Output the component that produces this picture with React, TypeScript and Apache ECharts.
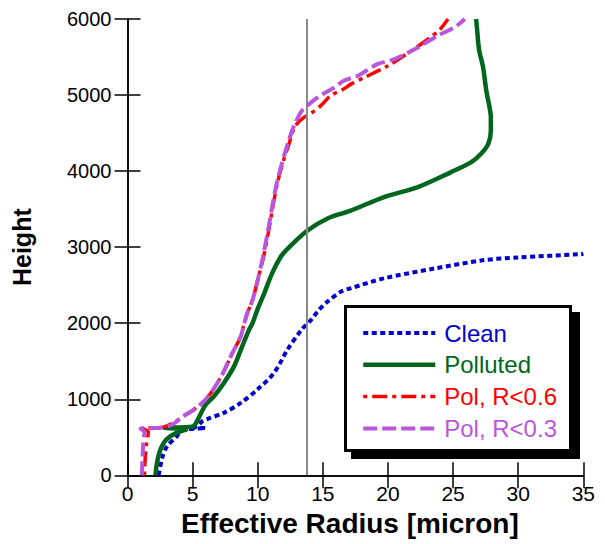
import React, { useEffect, useRef } from "react";
import * as echarts from "echarts";

// Effective radius [micron] vs height, per profile
const cleanR = [2.4, 2.67, 3.05, 3.8, 4.1, 4.6, 6.0, 4.8, 5.36, 5.74, 6.13, 7.4, 8.7, 9.97, 11.25, 12.28, 13.4, 14.1, 14.7, 15.36, 16.4, 17.15, 19.7, 23.6, 27.4, 30.0, 34.85, 35.0];
const cleanH = [0, 232, 384, 515, 580, 605, 622, 635, 650, 711, 740, 821, 952, 1127, 1345, 1650, 1922, 2044, 2175, 2284, 2415, 2460, 2590, 2720, 2830, 2865, 2908, 2915];

const pollR = [2.15, 2.25, 2.45, 2.8, 3.3, 4.0, 4.5, 2.8, 5.0, 5.3, 5.6, 6.0, 6.64, 7.4, 8.18, 8.7, 9.33, 9.6, 9.97, 10.5, 11.1, 11.77, 12.3, 13.8, 15.4, 17.15, 19.7, 22.3, 24.85, 26.4, 27.15, 27.7, 27.9, 27.9, 27.8, 27.55, 27.3, 27.0, 26.85, 26.77];
const pollH = [0, 150, 300, 430, 515, 575, 600, 625, 640, 700, 800, 930, 1039, 1214, 1432, 1650, 1913, 2000, 2175, 2393, 2655, 2873, 2980, 3215, 3380, 3480, 3659, 3790, 3987, 4118, 4228, 4359, 4533, 4708, 4839, 5057, 5371, 5590, 5852, 6000];

const pol06R = [1.3, 1.35, 1.45, 1.6, 1.1, 2.6, 3.5, 4.3, 5.1, 5.87, 6.4, 6.9, 7.4, 8.05, 8.7, 8.9, 9.2, 9.6, 10.0, 10.45, 10.8, 11.25, 11.5, 11.9, 12.4, 12.67, 12.9, 13.5, 14.1, 14.85, 15.6, 16.6, 17.15, 18.2, 20.0, 21.8, 23.3, 23.95, 24.5, 24.6];
const pol06H = [0, 200, 400, 570, 620, 628, 690, 777, 865, 973, 1083, 1214, 1367, 1607, 1825, 1956, 2131, 2306, 2568, 2873, 3180, 3616, 3834, 4096, 4358, 4511, 4600, 4700, 4760, 4861, 4992, 5079, 5144, 5232, 5385, 5581, 5764, 5852, 5974, 6000];

const pol03R = [1.1, 1.15, 1.2, 1.3, 1.0, 2.5, 3.4, 4.3, 5.1, 5.87, 6.4, 6.9, 7.4, 8.05, 8.7, 8.9, 9.2, 9.6, 10.0, 10.4, 10.75, 11.2, 11.45, 11.85, 12.3, 12.6, 12.85, 13.4, 14.1, 15.0, 15.9, 16.6, 17.7, 19.2, 20.5, 22.3, 23.8, 25.1, 25.9];
const pol03H = [0, 200, 400, 570, 615, 625, 665, 777, 865, 973, 1083, 1214, 1367, 1607, 1825, 1956, 2131, 2306, 2568, 2873, 3180, 3616, 3834, 4096, 4358, 4511, 4620, 4795, 4904, 5014, 5101, 5188, 5254, 5407, 5473, 5626, 5779, 5888, 6000];

const referenceRadius = 13.8;

const seriesNames = ["Clean", "Polluted", "Pol, R<0.6", "Pol, R<0.3"];
const seriesColors = ["#0000cc", "#00661e", "#ff0000", "#bb55dd"];
const seriesWidths = [4, 4.5, 3.5, 4];
const seriesDash: any[] = [[5, 3.5], "solid", [4, 5, 15, 5], [14, 5]];

const FONT = "Liberation Sans, Arial, Helvetica, sans-serif";

const zip = (r: number[], h: number[]) => r.map((x, i) => [x, h[i]]);

export default function App() {
  const ref = useRef<HTMLDivElement>(null);

  useEffect(() => {
    document.body.style.margin = "0";
    if (!ref.current) return;
    const chart = echarts.init(ref.current, undefined, { renderer: "svg" });

    const baseAxisLine = { show: true, lineStyle: { color: "#000", width: 1.5 } };
    const baseTick = { show: true, inside: true, length: 13, lineStyle: { color: "#000", width: 1.5 } };
    const SMOOTH = 0.3;
    const dataSets = [zip(cleanR, cleanH), zip(pollR, pollH), zip(pol06R, pol06H), zip(pol03R, pol03H)];

    const series: any[] = seriesNames.map((name, i) => ({
      name,
      type: "line",
      data: dataSets[i],
      symbol: "none",
      smooth: SMOOTH,
      z: 2 + i,
      lineStyle: { color: seriesColors[i], width: seriesWidths[i], type: seriesDash[i] },
      itemStyle: { color: seriesColors[i] },
    }));
    series[0].markLine = {
      silent: true,
      symbol: "none",
      label: { show: false },
      lineStyle: { color: "#888", width: 2, type: "solid" },
      data: [{ xAxis: referenceRadius }],
    };

    chart.setOption({
      animation: false,
      backgroundColor: "#fff",
      grid: { left: 127.5, right: 21.7, top: 19, bottom: 68.7 },
      xAxis: [
        {
          type: "value",
          min: 0,
          max: 35,
          interval: 5,
          position: "bottom",
          axisLine: baseAxisLine,
          axisTick: baseTick,
          splitLine: { show: false },
          axisLabel: { fontFamily: FONT, fontSize: 21, color: "#000", margin: 8, formatter: (v: number) => String(v) },
          name: "Effective Radius [micron]",
          nameLocation: "middle",
          nameGap: 32,
          nameTextStyle: { fontFamily: FONT, fontSize: 28, fontWeight: "bold", color: "#000", padding: [0, 11, 0, 0] },
        },
        {
          type: "value",
          min: 0,
          max: 35,
          interval: 5,
          position: "top",
          axisLine: baseAxisLine,
          axisTick: baseTick,
          splitLine: { show: false },
          axisLabel: { show: false },
        },
      ],
      yAxis: [
        {
          type: "value",
          min: 0,
          max: 6000,
          interval: 1000,
          position: "left",
          axisLine: baseAxisLine,
          axisTick: baseTick,
          splitLine: { show: false },
          axisLabel: { fontFamily: FONT, fontSize: 20, color: "#000", margin: 16, formatter: (v: number) => String(v) },
          name: "Height",
          nameLocation: "middle",
          nameGap: 93,
          nameRotate: 90,
          nameTextStyle: { fontFamily: FONT, fontSize: 25, fontWeight: "bold", color: "#000" },
        },
        {
          type: "value",
          min: 0,
          max: 6000,
          interval: 1000,
          position: "right",
          axisLine: baseAxisLine,
          axisTick: baseTick,
          splitLine: { show: false },
          axisLabel: { show: false },
        },
      ],
      legend: {
        orient: "vertical",
        left: 361,
        top: 321,
        padding: 0,
        itemWidth: 72,
        itemHeight: 14,
        itemGap: 7.8,
        selectedMode: false,
        z: 10,
        itemStyle: { opacity: 0, borderWidth: 0 },
        textStyle: { fontFamily: FONT, fontSize: 24, lineHeight: 24, padding: [0, 0, 0, 4] },
        data: seriesNames.map((n, i) => ({
          name: n,
          textStyle: { color: seriesColors[i] },
          lineStyle: { color: seriesColors[i], width: seriesWidths[i], type: seriesDash[i] },
        })),
      },
      graphic: [
        { type: "rect", z: 5, shape: { x: 351, y: 312, width: 229, height: 147 }, style: { fill: "#000" } },
        { type: "rect", z: 6, shape: { x: 345.5, y: 306.5, width: 225, height: 144 }, style: { fill: "#fff", stroke: "#000", lineWidth: 3 } },
      ],
      series,
    });

    return () => chart.dispose();
  }, []);

  return <div ref={ref} style={{ width: 605, height: 544 }} />;
}
